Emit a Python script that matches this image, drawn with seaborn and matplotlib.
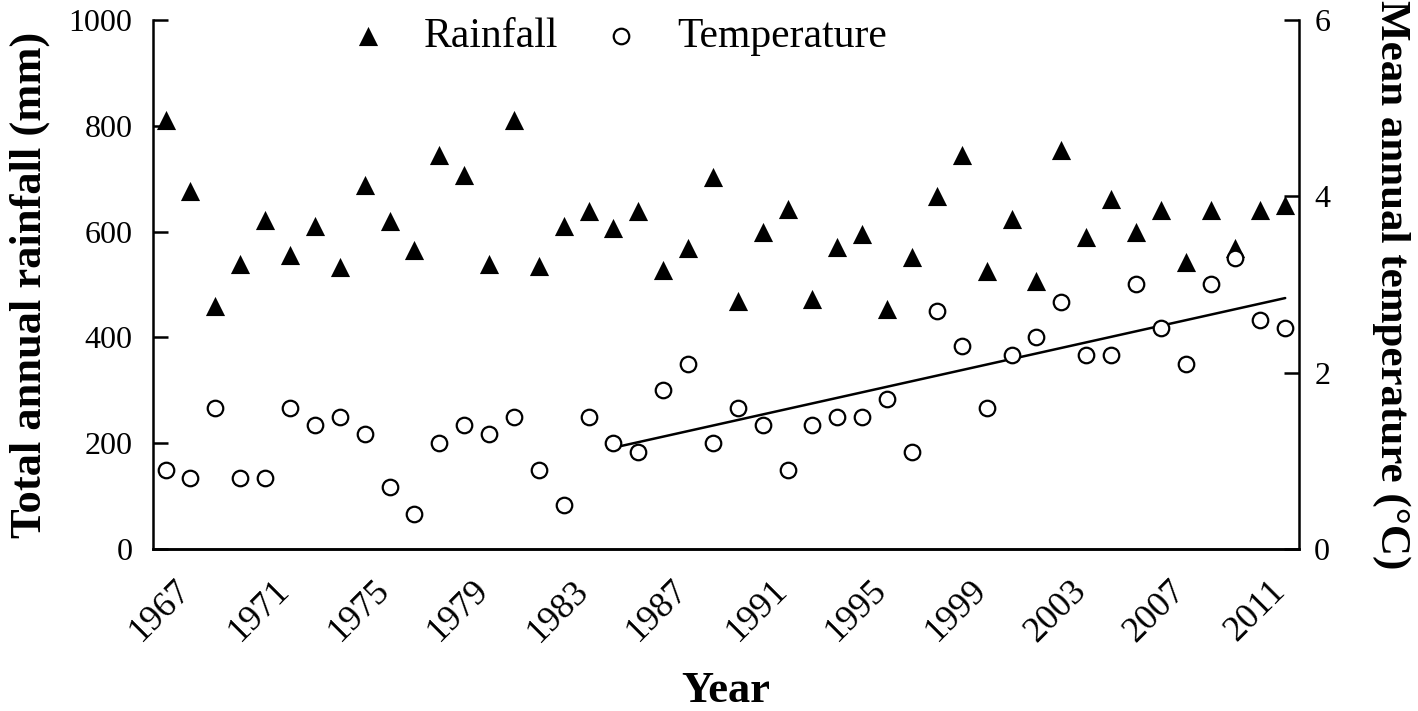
import numpy as np
import pandas as pd
import matplotlib
matplotlib.use('Agg')
import matplotlib.pyplot as plt
from matplotlib.transforms import ScaledTranslation
import seaborn as sns

# ---------- data ----------
years = list(range(1967, 2013))
rainfall = [810, 676, 460, 538, 622, 555, 610, 532, 688, 619,
            565, 745, 707, 538, 811, 534, 610, 639, 607, 639,
            528, 568, 703, 468, 600, 643, 472, 570, 595, 453,
            551, 668, 744, 526, 624, 507, 755, 590, 661, 599,
            641, 543, 641, 568, 641, 651]
temperature = [0.9, 0.8, 1.6, 0.8, 0.8, 1.6, 1.4, 1.5, 1.3, 0.7,
               0.4, 1.2, 1.4, 1.3, 1.5, 0.9, 0.5, 1.5, 1.2, 1.1,
               1.8, 2.1, 1.2, 1.6, 1.4, 0.9, 1.4, 1.5, 1.5, 1.7,
               1.1, 2.7, 2.3, 1.6, 2.2, 2.4, 2.8, 2.2, 2.2, 3.0,
               2.5, 2.1, 3.0, 3.3, 2.6, 2.5]
trend_start = 1985
xtick_years = [1967, 1971, 1975, 1979, 1983, 1987, 1991, 1995, 1999, 2003, 2007, 2011]
rain_ticks = [0, 200, 400, 600, 800, 1000]
temp_ticks = [0, 2, 4, 6]

df = pd.DataFrame({'year': years, 'rain': rainfall, 'temp': temperature})
trend = df[df.year >= trend_start]

sns.set_style('ticks')
plt.rcParams['font.family'] = ['Liberation Serif', 'DejaVu Serif']
plt.rcParams.update({'axes.linewidth': 1.8, 'text.color': 'black',
                     'axes.labelcolor': 'black', 'xtick.color': 'black',
                     'ytick.color': 'black', 'axes.edgecolor': 'black'})

fig, ax = plt.subplots(figsize=(14.18, 7.11), dpi=100)
fig.subplots_adjust(left=0.108, right=0.916, top=0.972, bottom=0.228)
ax2 = ax.twinx()

sns.scatterplot(data=df, x='year', y='rain', ax=ax, marker='^', color='black',
                s=190, linewidth=0, legend=False, zorder=3)
sns.scatterplot(data=df, x='year', y='temp', ax=ax2, marker='o', facecolor='white',
                edgecolor='black', s=125, linewidth=1.6, legend=False, zorder=3)
sns.regplot(data=trend, x='year', y='temp', ax=ax2, scatter=False, ci=None,
            truncate=True, line_kws=dict(color='black', lw=1.8, zorder=2))

ax.set_xlim(1966.5, 2012.55)
ax.set_ylim(0, 1000)
ax2.set_ylim(0, 6)
ax.set_yticks(rain_ticks)
ax2.set_yticks(temp_ticks)
ax.set_xticks(xtick_years)
ax.set_xticklabels([str(y) for y in xtick_years], rotation=45, ha='right',
                   va='top', rotation_mode='anchor')

ax.tick_params(axis='x', length=0, pad=18, labelsize=26)
ax.tick_params(axis='y', direction='in', length=11, width=1.8, pad=15, labelsize=23)
ax2.tick_params(axis='y', direction='in', length=11, width=1.8, pad=11, labelsize=23)

# nudge the rotated year labels a little to the right
shift = ScaledTranslation(6 / 72, 0, fig.dpi_scale_trans)
for lab in ax.get_xticklabels():
    lab.set_transform(lab.get_transform() + shift)

for a in (ax, ax2):
    a.spines['top'].set_visible(False)
ax2.spines['left'].set_visible(False)
ax.spines['right'].set_visible(False)

ax.set_xlabel('Year', fontsize=32, fontweight='bold', labelpad=16)
ax.set_ylabel('Total annual rainfall (mm)', fontsize=32, fontweight='bold', labelpad=13)
ax2.set_ylabel('Mean annual temperature (°C)', fontsize=31, fontweight='bold',
               rotation=270, labelpad=58)

h1 = ax.collections[0]
h2 = ax2.collections[0]
ax2.legend([h1, h2], ['Rainfall', 'Temperature'], loc='center left',
           bbox_to_anchor=(0.151, 0.968), ncol=2, frameon=False, fontsize=30,
           markerscale=1.0, handlelength=1.0, handletextpad=0.85,
           columnspacing=1.0, borderpad=0)

fig.savefig('out.png', dpi=100)
